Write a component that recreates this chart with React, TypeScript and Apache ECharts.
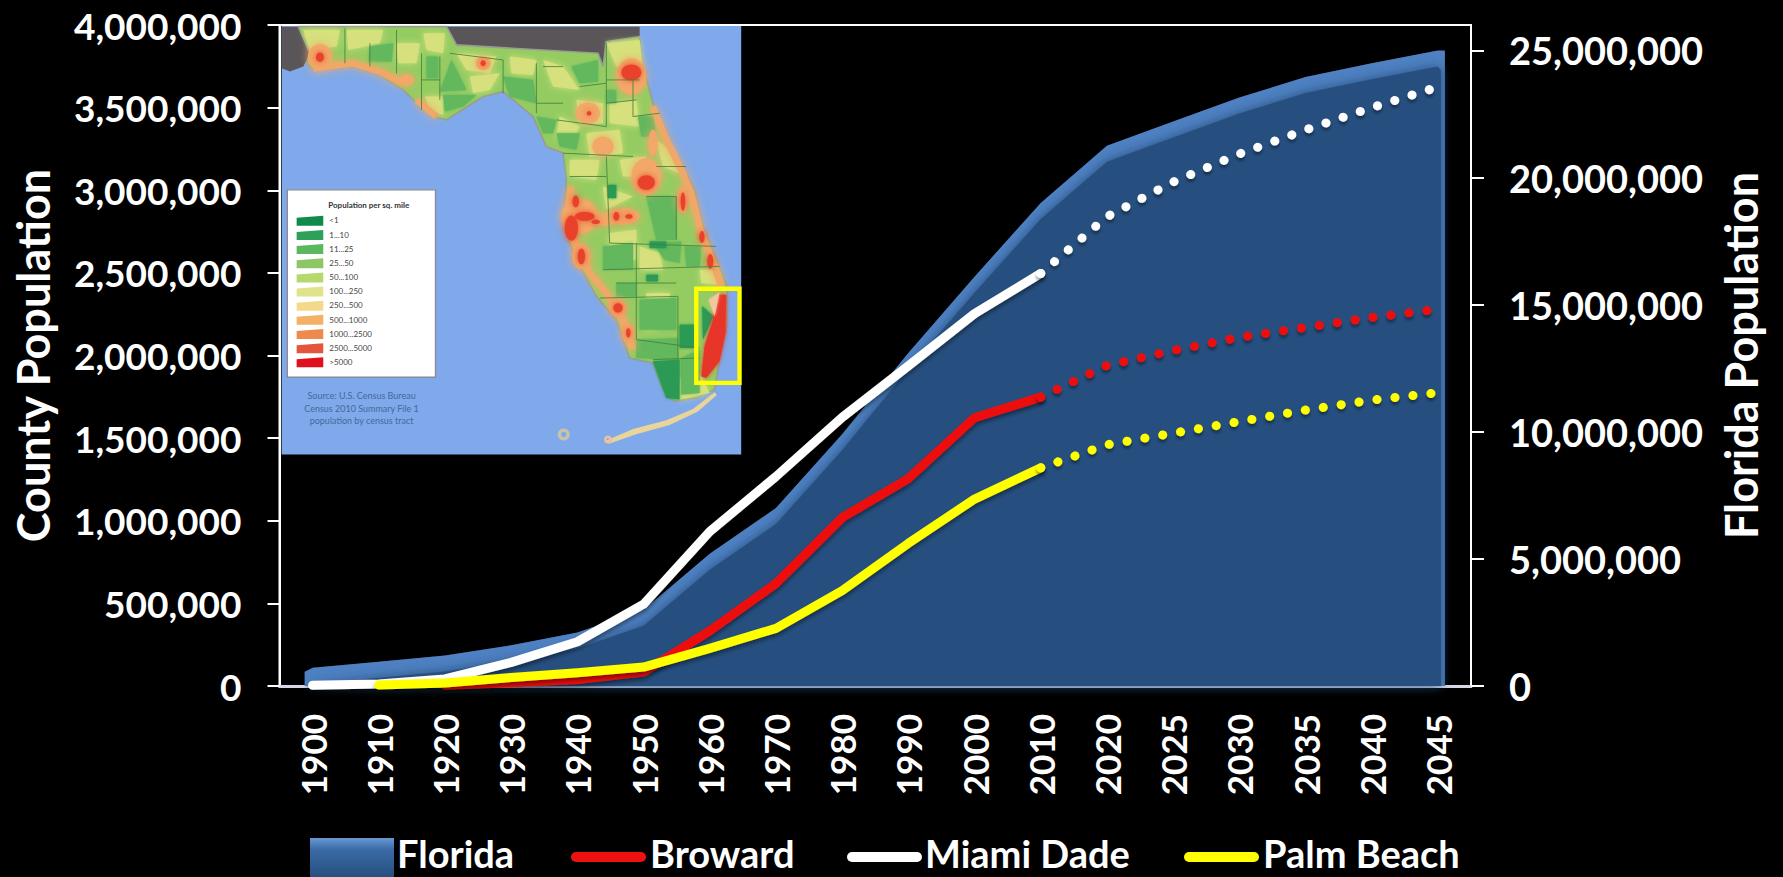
import React, { useEffect, useRef } from "react";
import * as echarts from "echarts";

const FONT = "Lato";

const years = ["1900","1910","1920","1930","1940","1950","1960","1970","1980","1990","2000","2010","2020","2025","2030","2035","2040","2045"];

// Right axis: state total
const florida = [720000,950000,1200000,1600000,2100000,3000000,5200000,7000000,9900000,13100000,16100000,19000000,21250000,22200000,23150000,23950000,24500000,25000000];

// Left axis: counties, census years then projections
const broward = [null,null,5135,20094,39794,83933,333946,620100,1018200,1255488,1623018,1748066];
const browardProjected = [1748066,1940000,2030000,2110000,2170000,2230000,2280000];
const miami = [4955,11933,42753,142955,267739,495084,935047,1267792,1625781,1937094,2253362,2496435];
const miamiProjected = [2496435,2840000,3050000,3220000,3365000,3500000,3625000];
const palm = [null,5577,18654,51781,79989,114688,228106,348993,576863,863518,1131184,1320134];
const palmProjected = [1320134,1460000,1530000,1600000,1670000,1730000,1775000];

const leftInterval = 500000;
const rightTickValues = [0,5000000,10000000,15000000,20000000,25000000];

const densityLabels = ["<1","1...10","11...25","25...50","50...100","100...250","250...500","500...1000","1000...2500","2500...5000",">5000"];
const densityColors = ["#0e8a4a","#2fa05a","#5cb85c","#8cc665","#b5d96e","#e0e38a","#f4d98a","#f4b066","#ee8a4e","#e4553e","#e0101e"];

const sourceLines = ["Source: U.S. Census Bureau","Census 2010 Summary File 1","population by census tract"];

// State outline and patches for the inset map, in the inset's own drawing units
const stateOutline = [[85,80],[530,80],[560,135],[985,160],[1000,200],[1010,125],[1110,110],[1120,200],[1150,310],[1190,420],[1240,500],[1275,570],[1300,680],[1350,800],[1372,860],[1372,980],[1350,1080],[1335,1170],[1280,1195],[1215,1205],[1180,1170],[1150,1090],[1080,1075],[1040,960],[980,890],[920,780],[880,680],[890,540],[880,460],[830,440],[790,350],[700,275],[640,290],[530,360],[490,350],[440,310],[400,270],[330,225],[250,200],[130,210],[110,190],[120,160]];
const grayNorth = [[530,80],[1110,80],[1110,110],[1010,125],[1000,200],[985,160],[560,135]];
const grayWest = [[35,80],[85,80],[120,160],[100,200],[60,215],[35,205]];
const keys = [[1005,1325],[1090,1288],[1190,1262],[1270,1228],[1335,1178],[1342,1186],[1285,1236],[1200,1276],[1100,1304],[1020,1332]];
const pale = [
  [[230,90],[340,90],[330,130],[235,150]],[[380,130],[450,130],[440,190],[385,190]],[[560,160],[680,170],[660,220],[590,210]],
  [[820,180],[880,200],[930,270],[850,260]],[[920,300],[1000,310],[1000,370],[930,370]],[[950,400],[1050,390],[1060,460],[960,470]],
  [[900,480],[990,480],[980,540],[900,530]],[[1010,130],[1110,120],[1120,210],[1040,200]],[[1020,310],[1100,300],[1110,380],[1020,370]],
  [[1020,700],[1100,690],[1100,780],[1020,780]],[[1110,740],[1170,760],[1180,810],[1110,810]],[[1120,950],[1160,950],[1160,990],[1120,990]],
  [[100,90],[210,90],[200,140],[120,150]],[[460,100],[525,100],[520,160],[470,150]],[[465,290],[520,290],[520,345],[480,330]],
  [[600,230],[690,220],[660,270],[610,280]],[[720,170],[800,180],[790,225],[725,220]],[[870,350],[930,380],[900,440],[860,410]],
  [[1050,480],[1130,470],[1100,530],[1060,530]],[[1160,420],[1200,450],[1230,520],[1180,500]],[[1000,560],[1090,590],[1010,630]],
  [[1130,880],[1200,880],[1200,895],[1130,895]],[[1290,810],[1345,810],[1350,855],[1295,850]],[[1190,1150],[1290,1120],[1320,1180],[1230,1200]]
];
const midGreen = [
  [[545,180],[590,270],[510,275]],[[700,230],[790,240],[800,310],[720,290]],[[800,350],[860,360],[850,400],[820,400]],
  [[860,400],[930,400],[920,450],[870,440]],[[1130,590],[1220,590],[1220,720],[1160,720]],[[1150,730],[1235,725],[1230,790],[1185,780]],
  [[1245,740],[1295,740],[1290,800],[1250,800]],[[1040,850],[1100,850],[1100,890],[1040,890]],[[1110,900],[1220,895],[1220,990],[1110,990]],
  [[1100,1020],[1225,1015],[1225,1080],[1100,1075]],[[1235,1075],[1290,1050],[1290,1180],[1235,1185]],[[1000,740],[1090,730],[1090,810],[1000,810]],
  [[1010,270],[1040,270],[1040,310],[1010,310]],[[300,140],[370,130],[365,185],[295,185]],[[470,170],[505,170],[505,235],[470,235]],
  [[520,285],[620,285],[580,320],[525,335]],[[905,200],[985,180],[985,245],[930,250]],[[1105,350],[1150,350],[1160,410],[1115,410]]
];
const darkGreen = [
  [[1230,975],[1275,975],[1275,1045],[1230,1045]],[[1150,1085],[1230,1080],[1230,1200],[1190,1195]],[[1298,920],[1332,950],[1300,1020]],
  [[1015,555],[1040,555],[1040,595],[1015,595]],[[1130,825],[1165,825],[1165,845],[1130,845]],[[1140,725],[1190,725],[1190,745],[1140,745]]
];
const orangeBands = [
  [[1150,320],[1190,420],[1240,520],[1270,600],[1295,700],[1335,800],[1355,860]],
  [[905,560],[890,650],[920,740],[960,820],[1010,880],[1060,960],[1090,1050]],
  [[130,205],[250,190],[330,215],[400,250]],[[500,350],[440,300]]
];
const orangeBlobs = [
  [930,650,55,52],[1130,530,45,55],[1085,230,45,55],[150,170,36,38],[640,190,22,20],[955,340,36,32],[1000,440,32,30],
  [935,770,28,38],[1045,925,26,26],[1060,650,50,24],[1000,660,40,18],[1075,1000,18,30],[1240,600,18,40],[410,240,22,18],[1150,430,14,40]
];
const redBlobs = [
  [905,685,20,38],[945,650,30,13],[918,605,10,18],[978,666,13,7],[1040,650,9,13],[1078,650,11,7],
  [1130,548,26,22],[1085,218,30,24],[150,172,12,14],[640,190,8,9],[958,340,7,7],
  [935,770,11,24],[1045,925,14,14],[1076,1000,7,14],[1240,605,7,28],[1297,712,8,18],[1322,785,9,22]
];
const southEastStrip = [[1340,885],[1370,885],[1368,1000],[1350,1085],[1310,1135],[1295,1130],[1305,1040],[1330,960]];
const stripFringe = [[1350,878],[1318,900],[1335,950]];
const countyLines = [
  [[225,85],[225,190]],[[380,90],[380,220]],[[455,160],[455,330]],[[510,170],[510,300]],[[455,240],[510,240]],[[540,160],[700,180]],
  [[700,180],[700,280]],[[800,190],[800,340]],[[800,310],[880,310]],[[820,200],[880,200]],[[930,260],[1010,250]],[[1010,130],[1010,380]],
  [[1010,240],[1110,240]],[[880,460],[1090,470]],[[900,530],[1010,530]],[[1010,470],[1020,730]],[[1020,730],[1340,740]],[[1100,730],[1100,890]],
  [[1000,810],[1350,800]],[[1040,850],[1220,850]],[[990,895],[1225,890]],[[1100,890],[1100,1020]],[[1225,890],[1225,1080]],[[1100,1020],[1290,1045]],
  [[1150,1080],[1290,1075]],[[1130,590],[1220,590]],[[1220,590],[1220,720]],[[1090,350],[1170,340]],[[1160,500],[1250,500]],[[300,130],[300,200]],
  [[860,360],[1010,380]],[[1010,310],[1100,300]],[[1090,240],[1090,350]]
];

function poly(points: number[][], fill: string, blur = 0) {
  return { type: "polygon", shape: { points }, style: { fill, shadowColor: fill, shadowBlur: blur } };
}

function blob([cx, cy, rx, ry]: number[], fill: string, blur: number) {
  return { type: "ellipse", shape: { cx, cy, rx, ry }, style: { fill, shadowColor: fill, shadowBlur: blur } };
}

function insetMap() {
  const children: any[] = [];
  children.push({ type: "rect", shape: { x: 35, y: 78, width: 1380, height: 1287 }, style: { fill: "#7fa9ea" } });
  children.push(poly(grayNorth, "#5a5558"), poly(grayWest, "#5a5558"));
  children.push({ type: "polygon", shape: { points: stateOutline }, style: { fill: "#94cc62", stroke: "#9a9c90", lineWidth: 5 } });
  children.push(poly(keys, "#e8d59a"));
  children.push({ type: "ring", shape: { cx: 882, cy: 1305, r: 18, r0: 8 }, style: { fill: "#c9c3a8" } });
  children.push({ type: "ring", shape: { cx: 1015, cy: 1320, r: 12, r0: 4 }, style: { fill: "#ecc0a0" } });
  pale.forEach((p) => children.push(poly(p, "#d6e07c", 6)));
  midGreen.forEach((p) => children.push(poly(p, "#63b75d", 3)));
  darkGreen.forEach((p) => children.push(poly(p, "#2a9a55", 3)));
  orangeBands.forEach((points) =>
    children.push({ type: "polyline", shape: { points }, style: { stroke: "#f0a868", lineWidth: 20, fill: null, shadowColor: "#f0a868", shadowBlur: 8 } })
  );
  orangeBlobs.forEach((b) => children.push(blob(b, "#f2a868", 9)));
  redBlobs.forEach((b) => children.push(blob(b, "#e8432c", 6)));
  children.push(poly(southEastStrip, "#e8352b", 4));
  children.push(poly(stripFringe, "#f3c8a0", 3));
  countyLines.forEach((points) =>
    children.push({ type: "polyline", shape: { points }, style: { stroke: "#457f3e", lineWidth: 2.5, fill: null } })
  );
  children.push({ type: "rect", shape: { x: 1280, y: 867, width: 130, height: 283 }, style: { fill: null, stroke: "#ffff00", lineWidth: 13 } });

  // density key
  children.push({ type: "rect", shape: { x: 52, y: 570, width: 445, height: 563 }, style: { fill: "#ffffff", stroke: "#8a8a92", lineWidth: 4 } });
  children.push({ type: "text", style: { text: "Population per sq. mile", x: 175, y: 605, fill: "#333333", font: `bold 24px ${FONT}` } });
  densityLabels.forEach((label, i) => {
    const y = 648 + i * 42.5;
    children.push(poly([[80, y + 6], [160, y], [160, y + 30], [80, y + 30]], densityColors[i]));
    children.push({ type: "text", style: { text: label, x: 178, y: y + 2, fill: "#444444", font: `24px ${FONT}` } });
  });
  sourceLines.forEach((text, i) => {
    children.push({ type: "text", style: { text, x: 275, y: 1175 + i * 37, align: "center", fill: "#44689c", font: `27px ${FONT}` } });
  });
  return { type: "group", x: 270, y: 0, scaleX: 1 / 3, scaleY: 1 / 3, z: 20, children };
}

// Bottom key: swatch on the left of each series name
function keyRow() {
  const label = (text: string, x: number) => ({
    type: "text",
    style: { text, x, y: 872, verticalAlign: "bottom", fill: "#ffffff", font: `bold 38px ${FONT}` },
  });
  const stroke = (x: number, fill: string) => ({ type: "rect", shape: { x, y: 852, width: 75, height: 10, r: 5 }, style: { fill } });
  return {
    type: "group",
    children: [
      {
        type: "rect", shape: { x: 310, y: 838, width: 84, height: 39 },
        style: { fill: { type: "linear", x: 0, y: 0, x2: 0, y2: 1, colorStops: [{ offset: 0, color: "#6a9ad6" }, { offset: 0.3, color: "#3a6aa5" }, { offset: 1, color: "#27507f" }] } },
      },
      label("Florida", 397),
      stroke(571, "#ee1111"), label("Broward", 650),
      stroke(847, "#ffffff"), label("Miami Dade", 925),
      stroke(1184, "#ffff00"), label("Palm Beach", 1263),
    ],
  };
}

// Light outer surface and darker face of the state's area, following its data points
function floridaBevel(params: any, api: any) {
  if (params.dataIndex !== 0) return undefined;
  const top = florida.map((v, i) => api.coord([i, v]));
  const base = api.coord([0, 0])[1];
  const last = top.length - 1;
  const outer = [[top[0][0] - 8, top[0][1] + 4], ...top, [top[last][0] + 7, top[last][1]], [top[last][0] + 7, base], [top[0][0] - 8, base]];
  const inner = [[top[0][0] - 3, top[0][1] + 17], ...top.map(([x, y]) => [x, y + 16]), [top[last][0] + 3, top[last][1] + 20], [top[last][0] + 3, base], [top[0][0] - 3, base]];
  return {
    type: "group",
    children: [
      { type: "polygon", shape: { points: outer }, style: { fill: "#4f81c2" } },
      { type: "polygon", shape: { points: inner }, style: { fill: "#27507f", shadowColor: "#27507f", shadowBlur: 12 } },
    ],
  };
}

const pad = (values: (number | null)[], before: number) => [...Array(before).fill(null), ...values];

function solid(name: string, color: string, data: (number | null)[]) {
  return {
    name, type: "line", data, color, connectNulls: false, showSymbol: false, symbol: "none", z: 5,
    lineStyle: { color, width: 9, cap: "round", join: "round", shadowColor: "rgba(0,0,0,0.45)", shadowBlur: 4, shadowOffsetY: 3 },
  };
}

function dotted(name: string, color: string, data: (number | null)[]) {
  return {
    name, type: "line", data, color, showSymbol: false, symbol: "none", z: 5,
    lineStyle: { color, width: 9, cap: "round", type: [0.1, 18], shadowColor: "rgba(0,0,0,0.4)", shadowBlur: 3, shadowOffsetY: 3 },
  };
}

export default function App() {
  const ref = useRef<HTMLDivElement>(null);
  useEffect(() => {
    document.body.style.margin = "0";
    document.body.style.background = "#000";
    const chart = echarts.init(ref.current!, undefined, { renderer: "svg" });
    const labelStyle = { color: "#ffffff", fontFamily: FONT, fontWeight: "bold", fontSize: 37 };
    const fmt = (v: number) => v.toLocaleString("en-US");
    chart.setOption({
      animation: false,
      backgroundColor: "#000000",
      grid: { left: 279.5, right: 312, top: 25, bottom: 191, outerBoundsMode: "none", show: true, borderColor: "#ffffff", borderWidth: 2, backgroundColor: "transparent" },
      xAxis: {
        type: "category", data: years, boundaryGap: true,
        axisLine: { lineStyle: { color: "#d5d8e4", width: 3 } },
        axisTick: { length: 13, interval: 0, lineStyle: { color: "#ffffff", width: 2 } },
        axisLabel: { ...labelStyle, fontSize: 35, interval: 0, rotate: 90, margin: 28 },
      },
      yAxis: [
        {
          type: "value", min: 0, max: 4000000, interval: leftInterval, position: "left",
          name: "County Population", nameLocation: "middle", nameGap: 224, nameRotate: 90,
          nameTextStyle: { ...labelStyle, fontSize: 45 },
          splitLine: { show: false },
          axisLine: { show: true, lineStyle: { color: "#ffffff", width: 2 } },
          axisTick: { show: true, length: 12, lineStyle: { color: "#ffffff", width: 2 } },
          axisLabel: { ...labelStyle, margin: 38, formatter: fmt },
        },
        {
          type: "value", min: 0, max: 26000000, interval: 5000000, position: "right",
          name: "Florida Population", nameLocation: "middle", nameGap: 247, nameRotate: 90,
          nameTextStyle: { ...labelStyle, fontSize: 45 },
          splitLine: { show: false },
          axisLine: { show: true, lineStyle: { color: "#ffffff", width: 2 } },
          axisTick: { show: true, length: 13, customValues: rightTickValues, lineStyle: { color: "#ffffff", width: 2 } },
          axisLabel: { ...labelStyle, fontSize: 38, margin: 38, customValues: rightTickValues, formatter: fmt },
        },
      ],
      series: [
        { name: "Florida", type: "line", yAxisIndex: 1, data: florida, color: "#27507f", showSymbol: false, symbol: "none", lineStyle: { width: 0 }, areaStyle: { color: "#27507f" }, z: 1 },
        { name: "Florida surface", type: "custom", yAxisIndex: 1, data: florida.map((v, i) => [i, v]), renderItem: floridaBevel, clip: false, z: 2 },
        solid("Broward", "#ee1111", broward),
        dotted("Broward projected", "#ee1111", pad(browardProjected, 11)),
        solid("Miami Dade", "#ffffff", miami),
        dotted("Miami Dade projected", "#ffffff", pad(miamiProjected, 11)),
        solid("Palm Beach", "#ffff00", palm),
        dotted("Palm Beach projected", "#ffff00", pad(palmProjected, 11)),
      ],
      graphic: [keyRow(), insetMap()],
    });
    return () => chart.dispose();
  }, []);
  return <div ref={ref} style={{ position: "absolute", left: 0, top: 0, width: 1783, height: 877 }} />;
}
